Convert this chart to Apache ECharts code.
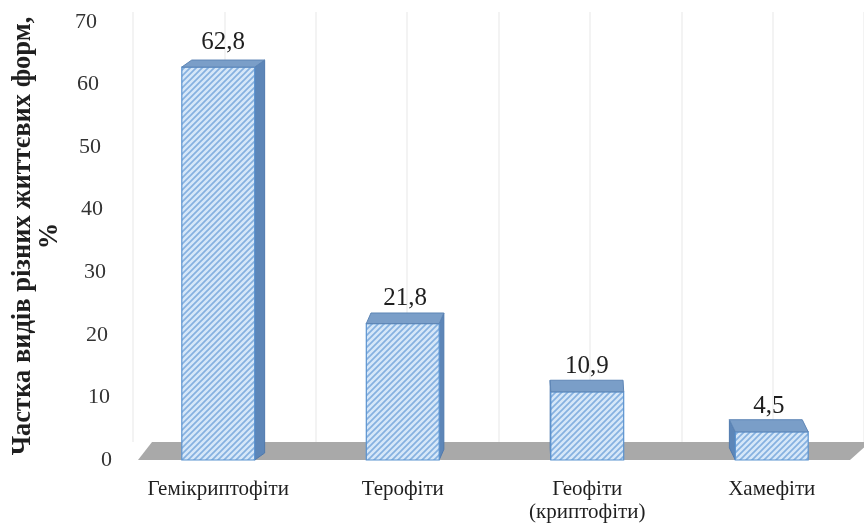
<!DOCTYPE html>
<html>
<head>
<meta charset="utf-8">
<script src="https://cdn.jsdelivr.net/npm/echarts@6/dist/echarts.min.js"></script>
<style>
  html, body { margin: 0; padding: 0; background: #ffffff; }
  #chart { width: 864px; height: 528px; }
</style>
</head>
<body>
<div id="chart"></div>
<script>
// Life-form spectrum of the flora, % of species
const categories = ['Гемікриптофіти', 'Терофіти', 'Геофіти\n(криптофіти)', 'Хамефіти'];
const shares = [62.8, 21.8, 10.9, 4.5];
const yMin = 0, yMax = 70, yStep = 10;
const yTitle = 'Частка видів різних життєвих форм,\n%';

const SERIF = '"Liberation Serif", "Times New Roman", serif';

// diagonal hatch used on the front faces of the columns
function hatchPattern() {
  const c = document.createElement('canvas');
  c.width = 6; c.height = 6;
  const g = c.getContext('2d');
  g.fillStyle = '#d6e7f8';
  g.fillRect(0, 0, 6, 6);
  g.strokeStyle = '#86b1e0';
  g.lineWidth = 1.7;
  g.beginPath();
  g.moveTo(-1, 7); g.lineTo(7, -1);
  g.moveTo(-4, 4); g.lineTo(4, -4);
  g.moveTo(2, 10); g.lineTo(10, 2);
  g.stroke();
  return c;
}
const hatch = { image: hatchPattern(), repeat: 'repeat' };

const fmt = v => String(v).replace('.', ',');

// pseudo-3D column: front face, top face and the visible side face
function renderColumn(params, api) {
  const cs = params.coordSys;
  const idx = api.value(0), v = api.value(1);
  const base = api.coord([idx, 0]);
  const top = api.coord([idx, v]);
  const band = api.size([1, 0])[0];
  const w = band * 0.395;
  const x0 = base[0] - w / 2, x1 = base[0] + w / 2;
  const yb = base[1], yt = top[1];
  // perspective: depth shifts toward a vanishing point
  const vx = cs.x + cs.width * 0.595;
  const vy = cs.y - cs.height * 1.04;
  const dx = 0.0287 * (vx - base[0]);
  const dy = -0.014 * (yt - vy);
  const children = [];
  let side;
  if (dx >= 0) {
    side = [[x1, yt], [x1 + dx, yt + dy], [x1 + dx, yb + dy], [x1, yb]];
  } else {
    side = [[x0, yt], [x0 + dx, yt + dy], [x0 + dx, yb + dy], [x0, yb]];
  }
  children.push({
    type: 'polygon', shape: { points: side },
    style: { fill: '#5d86b8', stroke: '#4f79ad', lineWidth: 1 }
  });
  children.push({
    type: 'rect', shape: { x: x0, y: yt, width: w, height: yb - yt },
    style: { fill: hatch, stroke: '#5b93cf', lineWidth: 1.2 }
  });
  children.push({
    type: 'polygon',
    shape: { points: [[x0, yt], [x1, yt], [x1 + dx, yt + dy], [x0 + dx, yt + dy]] },
    style: { fill: '#7a9ec8', stroke: '#5e86b6', lineWidth: 1 }
  });
  children.push({
    type: 'text',
    style: {
      x: base[0] + dx / 2, y: yt - 25, text: fmt(v),
      align: 'center', verticalAlign: 'middle',
      font: '25px ' + SERIF, fill: '#1f1f1f'
    }
  });
  return { type: 'group', children: children };
}

// grey floor under the columns
function renderFloor(params, api) {
  const cs = params.coordSys;
  const y = api.coord([0, 0])[1];
  return {
    type: 'polygon',
    shape: {
      points: [
        [cs.x + 12, y], [cs.x + cs.width - 14, y],
        [cs.x + cs.width + 6, y - 18], [cs.x + 26, y - 18]
      ]
    },
    style: { fill: '#a9a9a9' }
  };
}

// tick labels drift left toward the top (perspective of the side wall)
const rich = {};
for (let v = yMin; v <= yMax; v += yStep) {
  rich['t' + v] = {
    fontFamily: SERIF, fontSize: 22, color: '#333333',
    padding: [0, Math.round(v * 15 / 70), 0, 0]
  };
}

const chart = echarts.init(document.getElementById('chart'), null, { renderer: 'canvas' });
chart.setOption({
  backgroundColor: '#ffffff',
  animation: false,
  grid: [
    { left: 126, right: -4, top: 22, bottom: 68 },
    { left: 133, right: -6, top: 12, bottom: 86 }
  ],
  xAxis: [
    {
      type: 'category', gridIndex: 0, data: categories,
      axisLine: { show: false }, axisTick: { show: false },
      axisLabel: {
        interval: 0, margin: 18, fontFamily: SERIF, fontSize: 21,
        color: '#1f1f1f', lineHeight: 23
      }
    },
    {
      type: 'category', gridIndex: 1, data: ['', '', '', '', '', '', '', ''],
      axisLine: { show: false }, axisTick: { show: false }, axisLabel: { show: false },
      splitLine: { show: true, interval: 0, lineStyle: { color: '#efefef', width: 1.5 } }
    }
  ],
  yAxis: [
    {
      type: 'value', gridIndex: 0, min: yMin, max: yMax, interval: yStep,
      axisLine: { show: false }, axisTick: { show: false },
      splitLine: { show: false },
      axisLabel: {
        margin: 14,
        formatter: v => '{t' + v + '|' + v + '}',
        rich: rich
      },
      name: yTitle,
      nameLocation: 'middle',
      nameRotate: 90,
      nameGap: 54,
      nameTextStyle: {
        fontFamily: SERIF, fontSize: 26.5, fontWeight: 'bold',
        color: '#1f1f1f', lineHeight: 27, padding: [0, 0, 0, 10]
      }
    },
    {
      type: 'value', gridIndex: 1, min: 0, max: 1, show: false
    }
  ],
  series: [
    {
      type: 'custom', name: 'floor', xAxisIndex: 0, yAxisIndex: 0, z: 1,
      renderItem: renderFloor, data: [[0, 0]], silent: true
    },
    {
      type: 'custom', name: 'Частка', xAxisIndex: 0, yAxisIndex: 0, z: 2,
      renderItem: renderColumn,
      data: shares.map((v, i) => [i, v])
    }
  ]
});
</script>
</body>
</html>
